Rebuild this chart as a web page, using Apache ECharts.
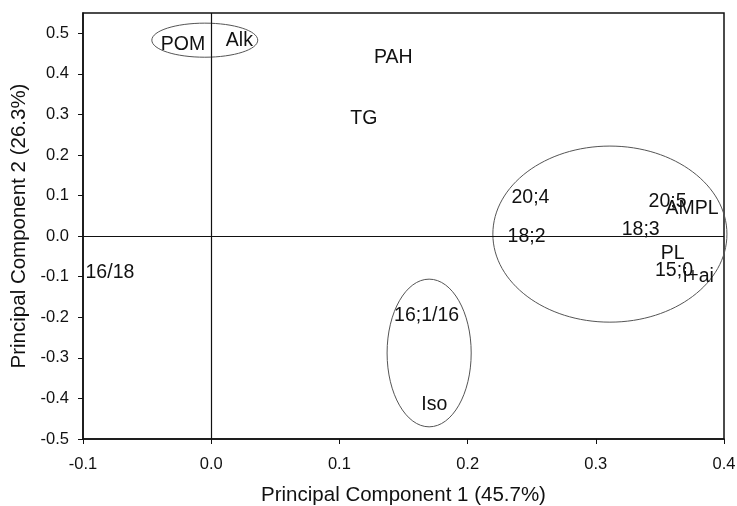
<!DOCTYPE html>
<html>
<head>
<meta charset="utf-8">
<script src="https://cdn.jsdelivr.net/npm/echarts@6/dist/echarts.min.js"></script>
<style>html,body{margin:0;padding:0;background:#fff}#c{width:737px;height:506px}</style>
</head>
<body>
<div id="c"></div>
<script>
// Variable labels and their loadings
var names = ['POM', 'Alk', 'PAH', 'TG', '16/18', '20;4', '18;2', '18;3', '20;5', 'AMPL', 'PL', '15;0', 'i+ai', '16;1/16', 'Iso'];
var pc1 = [-0.022, 0.022, 0.142, 0.119, -0.079, 0.249, 0.246, 0.335, 0.356, 0.375, 0.360, 0.361, 0.380, 0.168, 0.174];
var pc2 = [0.473, 0.483, 0.441, 0.290, -0.089, 0.094, 0.000, 0.015, 0.086, 0.069, -0.042, -0.086, -0.101, -0.195, -0.416];

// Group ellipses: centre (x,y) and radii in data units
var ellCx = [-0.005, 0.311, 0.170];
var ellCy = [0.483, 0.005, -0.288];
var ellRx = [0.0413, 0.0913, 0.0328];
var ellRy = [0.042, 0.217, 0.182];

var xTicks = [-0.1, 0.0, 0.1, 0.2, 0.3, 0.4];
var yTicks = [-0.5, -0.4, -0.3, -0.2, -0.1, 0.0, 0.1, 0.2, 0.3, 0.4, 0.5];

var font = 'Liberation Sans, Arial, sans-serif';
var chart = echarts.init(document.getElementById('c'), null, {renderer: 'canvas'});

var pts = names.map(function (n, i) { return {name: n, value: [pc1[i], pc2[i]]}; });
var ells = ellCx.map(function (c, i) { return [c, ellCy[i], ellRx[i], ellRy[i]]; });

chart.setOption({
  animation: false,
  backgroundColor: '#fff',
  grid: {left: 83, right: 13, top: 13, bottom: 67, outerBoundsMode: 'none', containLabel: false,
    show: true, borderColor: '#111', borderWidth: 1.5, backgroundColor: 'transparent'},
  xAxis: {
    type: 'value', min: -0.1, max: 0.4, interval: 0.1,
    name: 'Principal Component 1 (45.7%)', nameLocation: 'middle', nameGap: 46,
    nameTextStyle: {fontFamily: font, fontSize: 20.5, color: '#111'},
    axisLine: {show: true, onZero: false, lineStyle: {color: '#111', width: 1.5}},
    axisTick: {show: true, inside: false, length: 5, lineStyle: {color: '#111'}, customValues: xTicks},
    axisLabel: {margin: 17, fontFamily: font, fontSize: 16.5, color: '#111', customValues: xTicks,
      formatter: function (v) { return (Math.abs(v) < 1e-9 ? 0 : v).toFixed(1); }},
    splitLine: {show: false}
  },
  yAxis: {
    type: 'value', min: -0.5, max: 0.55,
    name: 'Principal Component 2 (26.3%)', nameLocation: 'middle', nameGap: 53,
    nameTextStyle: {fontFamily: font, fontSize: 20.5, color: '#111'},
    axisLine: {show: true, onZero: false, lineStyle: {color: '#111', width: 1.5}},
    axisTick: {show: true, inside: false, length: 5, lineStyle: {color: '#111'}, customValues: yTicks},
    axisLabel: {margin: 14, fontFamily: font, fontSize: 16.5, color: '#111', customValues: yTicks,
      formatter: function (v) { return (Math.abs(v) < 1e-9 ? 0 : v).toFixed(1); }},
    splitLine: {show: false}
  },
  series: [
    {
      type: 'custom',
      data: ells,
      silent: true,
      clip: false,
      renderItem: function (params, api) {
        var c = api.coord([api.value(0), api.value(1)]);
        var s = api.size([api.value(2), api.value(3)]);
        return {type: 'ellipse', shape: {cx: c[0], cy: c[1], rx: s[0], ry: s[1]},
          style: {fill: 'none', stroke: '#555', lineWidth: 1}};
      },
      z: 1
    },
    {
      type: 'scatter',
      data: pts,
      symbol: 'circle',
      symbolSize: 1,
      itemStyle: {color: 'rgba(0,0,0,0)'},
      label: {show: true, position: 'inside', formatter: '{b}', fontFamily: font, fontSize: 19.5,
        color: '#111', textBorderWidth: 0, opacity: 1},
      emphasis: {disabled: true},
      markLine: {
        silent: true, symbol: 'none', label: {show: false},
        lineStyle: {color: '#111', width: 1.2, type: 'solid'},
        data: [{xAxis: 0}, {yAxis: 0}]
      },
      z: 3
    }
  ]
});
</script>
</body>
</html>
